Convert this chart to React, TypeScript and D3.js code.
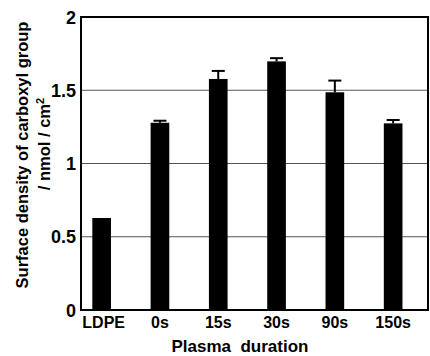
import * as d3 from "d3";
import { useEffect, useRef } from "react";

// data
const categories = ["LDPE", "0s", "15s", "30s", "90s", "150s"];
const values = [0.628, 1.278, 1.577, 1.697, 1.486, 1.274];
const errors = [0, 0.014, 0.055, 0.022, 0.08, 0.023];
const yTicks = [0, 0.5, 1, 1.5, 2];
const yTickLabels = ["0", "0.5", "1", "1.5", "2"];

const W = 430;
const H = 356;
const FONT = "'Liberation Sans', Arial, sans-serif";

export default function App() {
  const ref = useRef<SVGSVGElement>(null);

  useEffect(() => {
    if (!ref.current) return;
    const svg = d3.select(ref.current);
    svg.selectAll("*").remove();

    const left = 81;
    const right = 428;
    const top = 17;
    const bottom = 310;

    const y = d3.scaleLinear().domain([0, 2]).range([bottom, top]);
    const x = d3
      .scaleBand<string>()
      .domain(categories)
      .range([72.5, 422.3])
      .paddingInner(0.68)
      .paddingOuter(0.34);

    // gridlines
    svg
      .append("g")
      .selectAll("line")
      .data(yTicks.filter((t) => t > 0 && t < 2))
      .join("line")
      .attr("x1", left)
      .attr("x2", right)
      .attr("y1", (d) => y(d))
      .attr("y2", (d) => y(d))
      .attr("stroke", "#555")
      .attr("stroke-width", 1);

    // bars
    svg
      .append("g")
      .selectAll("rect")
      .data(values)
      .join("rect")
      .attr("x", (_, i) => x(categories[i])!)
      .attr("width", x.bandwidth())
      .attr("y", (d) => y(d))
      .attr("height", (d) => y(0) - y(d))
      .attr("fill", "#000");

    // error bars (upper only)
    const eb = svg.append("g").attr("stroke", "#000").attr("stroke-width", 2);
    values.forEach((v, i) => {
      if (!errors[i]) return;
      const cx = x(categories[i])! + x.bandwidth() / 2;
      eb.append("line")
        .attr("x1", cx)
        .attr("x2", cx)
        .attr("y1", y(v))
        .attr("y2", y(v + errors[i]));
      eb.append("line")
        .attr("x1", cx - 6.5)
        .attr("x2", cx + 6.5)
        .attr("y1", y(v + errors[i]))
        .attr("y2", y(v + errors[i]));
    });

    // frame
    svg
      .append("rect")
      .attr("x", left)
      .attr("y", top)
      .attr("width", right - left)
      .attr("height", bottom - top)
      .attr("fill", "none")
      .attr("stroke", "#000")
      .attr("stroke-width", 2);

    // y tick labels
    svg
      .append("g")
      .selectAll("text")
      .data(yTicks)
      .join("text")
      .attr("x", 76)
      .attr("y", (d) => y(d) + 6.5)
      .attr("text-anchor", "end")
      .style("font-family", FONT)
      .style("font-weight", "bold")
      .style("font-size", "18px")
      .text((_, i) => yTickLabels[i]);

    // x tick labels
    svg
      .append("g")
      .selectAll("text")
      .data(categories)
      .join("text")
      .attr("x", (d) => x(d)! + x.bandwidth() / 2 + (d === "LDPE" ? 2 : 0))
      .attr("y", 328)
      .attr("text-anchor", "middle")
      .style("font-family", FONT)
      .style("font-weight", "bold")
      .style("font-size", "16px")
      .text((d) => d);

    // x title
    svg
      .append("text")
      .attr("x", 240)
      .attr("y", 352)
      .attr("text-anchor", "middle")
      .style("font-family", FONT)
      .style("font-weight", "bold")
      .style("font-size", "17px")
      .style("white-space", "pre")
      .attr("xml:space", "preserve")
      .text("Plasma  duration");

    // y title, two lines
    const yt = svg
      .append("text")
      .attr("transform", "translate(28,155) rotate(-90)")
      .attr("text-anchor", "middle")
      .style("font-family", FONT)
      .style("font-weight", "bold")
      .style("font-size", "16.5px");
    yt.append("tspan").attr("x", 0).attr("y", 0).text("Surface density of carboxyl group");
    const l2 = yt.append("tspan").attr("x", 11).attr("y", 22);
    l2.append("tspan").text("/ nmol / cm");
    l2.append("tspan").attr("dy", -6).style("font-size", "11px").text("2");
  }, []);

  return (
    <svg
      ref={ref}
      width={W}
      height={H}
      style={{ position: "fixed", left: 0, top: 0, background: "#fff" }}
    />
  );
}
